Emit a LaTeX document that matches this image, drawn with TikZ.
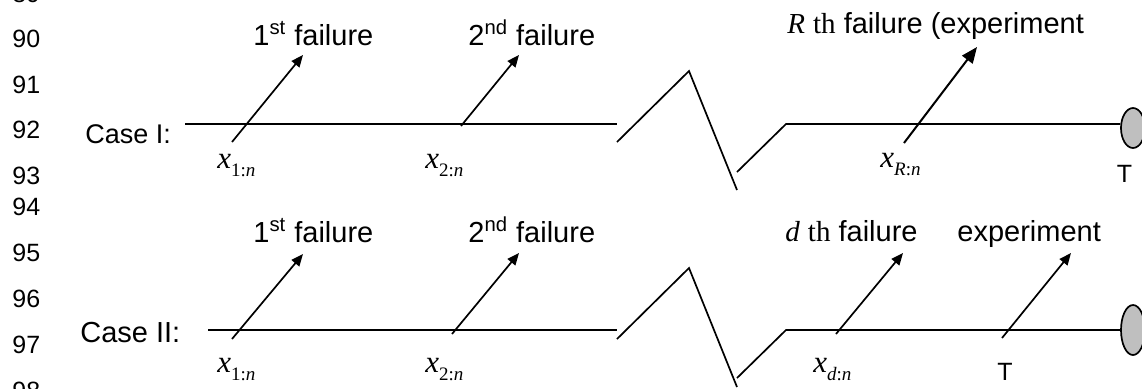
\documentclass[tikz,border=0pt]{standalone}
\usepackage{fontspec}
\setmainfont{Liberation Sans}
\newfontfamily\tms{Liberation Serif}
\usetikzlibrary{
  arrows.meta,
  shapes.geometric
}
\tikzset{>={Triangle[length=6pt,width=5pt]}}
\tikzset{
  timeline/.style={line width=0.65pt},
  breakline/.style={line width=0.85pt},
  failarrow/.style={line width=0.85pt,->},
  lineno/.style={font=\fontsize{12.5}{14}\selectfont,anchor=base west,inner sep=0pt},
  casename/.style={anchor=base west,inner sep=0pt},
  event/.style={font=\fontsize{14.5}{16}\selectfont,anchor=base west,inner sep=0pt},
  order/.style={anchor=base west,inner sep=0pt},
  endtime/.style={font=\fontsize{12.5}{14}\selectfont,anchor=base,inner sep=0pt},
  stopper/.style={draw,ellipse,line width=0.85pt,fill=black!25,inner sep=0pt,minimum width=12pt}
}
\newcommand{\ordstat}[1]{{\tms\fontsize{15.5}{16}\selectfont\itshape x}\raisebox{-4pt}{\tms\fontsize{9.5}{10}\selectfont #1}}

\begin{document}
\begin{tikzpicture}[x=0.5pt,y=-0.5pt]
	\useasboundingbox (0,0) rectangle (1142,388);
	\clip (0,0) rectangle (1142,388);
	\node[lineno] (n89) at (12,2) {89};
	\node[lineno] (n90) at (12,47) {90};
	\node[lineno] (n91) at (12,93) {91};
	\node[lineno] (n92) at (12,138) {92};
	\node[lineno] (n93) at (12,184) {93};
	\node[lineno] (n94) at (12,215) {94};
	\node[lineno] (n95) at (12,261) {95};
	\node[lineno] (n96) at (12,307) {96};
	\node[lineno] (n97) at (12,353) {97};
	\node[lineno] (n98) at (12,399) {98};
	
	\node[casename,font=\fontsize{13.5}{15}\selectfont] (caseI) at (85,143) {Case I:};
	\coordinate (A1) at (185,124);
	\coordinate (B1) at (617,124);
	\draw[timeline] (A1) -- (B1);
	\coordinate (Z1a) at (617,142);
	\coordinate (Z1b) at (689,71);
	\coordinate (Z1c) at (737,190);
	\coordinate (Z1d) at (737,172);
	\coordinate (Z1e) at (786,124);
	\draw[breakline] (Z1a) -- (Z1b) -- (Z1c);
	\node[stopper,minimum height=20pt] (S1) at (1133,128) {};
	\draw[breakline] (Z1d) -- (Z1e) -- (Z1e -| S1.west);
	\coordinate (F1a) at (232,142);
	\coordinate (F1b) at (303,55);
	\draw[failarrow] (F1a) -- (F1b);
	\coordinate (F2a) at (461,126);
	\coordinate (F2b) at (519,55);
	\draw[failarrow] (F2a) -- (F2b);
	\coordinate (FRa) at (904,143);
	\coordinate (FRb) at (977,47);
	\draw[failarrow,line width=1pt,-{Triangle[length=8pt,width=6.5pt]}] (FRa) -- (FRb);
	\node[event] (E1) at (253,45) {1\textsuperscript{st} failure};
	\node[event] (E2) at (468,45) {2\textsuperscript{nd} failure};
	\node[event] (ER) at (787,33) {{\tms\itshape R} {\tms th} failure (experiment};
	\node[order] (X1) at (217,168) {\ordstat{1:\textit{n}}};
	\node[order] (X2) at (425,168) {\ordstat{2:\textit{n}}};
	\node[order] (XR) at (880,167) {\ordstat{\textit{R}:\textit{n}}};
	\node[endtime] (T1) at (1124.5,182) {T};
	
	\node[casename,font=\fontsize{14.5}{16}\selectfont] (caseII) at (80,342) {Case II:};
	\coordinate (A2) at (208,330);
	\coordinate (B2) at (617,330);
	\draw[timeline] (A2) -- (B2);
	\coordinate (Z2a) at (617,339);
	\coordinate (Z2b) at (689,268);
	\coordinate (Z2c) at (737,387);
	\coordinate (Z2d) at (737,378);
	\coordinate (Z2e) at (786,330);
	\draw[breakline] (Z2a) -- (Z2b) -- (Z2c);
	\node[stopper,minimum height=25pt] (S2) at (1133,330) {};
	\draw[breakline] (Z2d) -- (Z2e) -- (S2.west);
	\coordinate (G1a) at (232,339);
	\coordinate (G1b) at (303,254);
	\draw[failarrow] (G1a) -- (G1b);
	\coordinate (G2a) at (452,334);
	\coordinate (G2b) at (519,253);
	\draw[failarrow] (G2a) -- (G2b);
	\coordinate (GDa) at (836,334);
	\coordinate (GDb) at (903,253);
	\draw[failarrow] (GDa) -- (GDb);
	\coordinate (GTa) at (1002,338);
	\coordinate (GTb) at (1071,253);
	\draw[failarrow] (GTa) -- (GTb);
	\node[event] (H1) at (253,242) {1\textsuperscript{st} failure};
	\node[event] (H2) at (468,242) {2\textsuperscript{nd} failure};
	\node[event] (HD) at (785,241) {{\tms\itshape d} {\tms th} failure};
	\node[event] (HT) at (957,241) {experiment};
	\node[order] (Y1) at (217,372) {\ordstat{1:\textit{n}}};
	\node[order] (Y2) at (425,372) {\ordstat{2:\textit{n}}};
	\node[order] (YD) at (813,372) {\ordstat{\textit{d}:\textit{n}}};
	\node[endtime] (T2) at (1005,380) {T};
\end{tikzpicture}
\end{document}
